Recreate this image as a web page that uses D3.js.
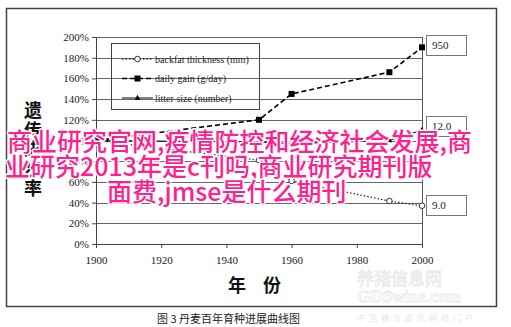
<!DOCTYPE html>
<html>
<head>
<meta charset="utf-8">
<script src="https://cdn.jsdelivr.net/npm/d3@7"></script>
<style>
  body { margin: 0; background: #fff; }
  svg { display: block; }
  .tick text { font-family: "Liberation Serif", serif; font-size: 11px; fill: #222; }
  .grid line { stroke: #666; stroke-width: 1; }
</style>
</head>
<body>
<svg width="511" height="327"></svg>
<script>
var years = [1900, 1950, 1960, 1990, 2000];
var backfat = [100, 81, 61, 41.5, 37];
var dailyGain = [100, 120, 145, 166, 190];
var litterSize = [100, 98.5, 97, 100, 110];
var yTicks = [0, 20, 40, 60, 80, 100, 120, 140, 160, 180, 200];
var xTicks = [1900, 1920, 1940, 1960, 1980, 2000];
var legendNames = ["backfat thickness (mm)", "daily gain (g/day)", "litter size (number)"];
var endLabels = ["9.0", "950", "12.0"];
var overlayLines = ["商业研究官网,疫情防控和经济社会发展,商", "业研究2013年是c刊吗,商业研究期刊版", "面费,jmse是什么期刊"];

var svg = d3.select("svg");

var x = d3.scaleLinear().domain([1900, 2000]).range([96, 422]);
var y = d3.scaleLinear().domain([0, 200]).range([244, 37]);

// outer frame
svg.append("rect").attr("x", 6.5).attr("y", 8.5).attr("width", 490).attr("height", 298)
  .attr("fill", "#fff").attr("stroke", "#444").attr("stroke-width", 1.5);

// faint watermark
var wm = svg.append("g").attr("fill", "none").attr("stroke", "#e8e8e8").attr("stroke-width", 0.8);
wm.append("text").attr("x", 357).attr("y", 285).attr("font-family", "Noto Sans CJK SC")
  .attr("font-size", 17).text("养猪信息网");
wm.append("text").attr("x", 357).attr("y", 302).attr("font-family", "Liberation Serif")
  .attr("font-weight", "bold").attr("font-size", 17).text("GDSwine.com");
svg.append("text").attr("x", 357).attr("y", 321).attr("font-family", "Noto Sans CJK SC")
  .attr("font-size", 8).attr("fill", "#e6e6e6").attr("letter-spacing", 4).text("中国猪业资讯网络门户");

// gridlines
svg.append("g").attr("class", "grid").selectAll("line").data(yTicks.slice(1)).join("line")
  .attr("x1", x(1900)).attr("x2", x(2000))
  .attr("y1", function(d) { return Math.round(y(d)) + 0.5; })
  .attr("y2", function(d) { return Math.round(y(d)) + 0.5; });
svg.append("line").attr("x1", x(2000) + 0.5).attr("x2", x(2000) + 0.5)
  .attr("y1", y(200)).attr("y2", y(0)).attr("stroke", "#555");

// axes
var yAxis = svg.append("g").attr("transform", "translate(" + x(1900) + ",0)")
  .call(d3.axisLeft(y).tickValues(yTicks).tickSize(4).tickPadding(3)
    .tickFormat(function(d) { return d + "%"; }));
var xAxis = svg.append("g").attr("transform", "translate(0," + y(0) + ")")
  .call(d3.axisBottom(x).tickValues(xTicks).tickSize(4).tickPadding(8).tickFormat(d3.format("d")));
[yAxis, xAxis].forEach(function(a) {
  a.select(".domain").attr("stroke", "#444");
  a.selectAll(".tick line").attr("stroke", "#444");
});

// series
var series = [
  { name: legendNames[0], values: backfat, dash: "1.5,2", width: 1.3, color: "#333", marker: "circle" },
  { name: legendNames[1], values: dailyGain, dash: "5,3", width: 1.6, color: "#000", marker: "square" },
  { name: legendNames[2], values: litterSize, dash: null, width: 1, color: "#000", marker: "triangle" }
];

var line = d3.line().x(function(d) { return x(d[0]); }).y(function(d) { return y(d[1]); });

function drawMarker(g, type, cx, cy) {
  if (type === "circle") {
    g.append("circle").attr("cx", cx).attr("cy", cy).attr("r", 2.8)
      .attr("fill", "#fff").attr("stroke", "#333").attr("stroke-width", 1);
  } else if (type === "square") {
    g.append("rect").attr("x", cx - 3).attr("y", cy - 3).attr("width", 6).attr("height", 6).attr("fill", "#000");
  } else {
    g.append("path").attr("d", d3.symbol(d3.symbolTriangle, 14)()).attr("transform", "translate(" + cx + "," + cy + ")")
      .attr("fill", "#000");
  }
}

series.forEach(function(s) {
  var pts = years.map(function(yr, i) { return [yr, s.values[i]]; });
  svg.append("path").datum(pts).attr("d", line).attr("fill", "none")
    .attr("stroke", s.color).attr("stroke-width", s.width).attr("stroke-dasharray", s.dash);
  var mg = svg.append("g");
  pts.forEach(function(p) { drawMarker(mg, s.marker, x(p[0]), y(p[1])); });
});

// end labels
var endVals = [backfat[backfat.length - 1], dailyGain[dailyGain.length - 1], litterSize[litterSize.length - 1]];
var endOffset = [-1, -2, -4];
endLabels.forEach(function(t, i) {
  var cy = y(endVals[i]) + endOffset[i];
  svg.append("rect").attr("x", 426.5).attr("y", Math.round(cy - 10) + 0.5).attr("width", 40).attr("height", 20)
    .attr("fill", "#fff").attr("stroke", "#777");
  svg.append("text").attr("x", 432).attr("y", cy + 4).attr("font-family", "Liberation Serif")
    .attr("font-size", 11).attr("fill", "#222").text(t);
});

// legend (transparent box)
svg.append("rect").attr("x", 111.5).attr("y", 43.5).attr("width", 148).attr("height", 66)
  .attr("fill", "none").attr("stroke", "#444");
var legY = [59, 78.5, 98];
series.forEach(function(s, i) {
  var g = svg.append("g");
  g.append("line").attr("x1", 122).attr("x2", 153).attr("y1", legY[i]).attr("y2", legY[i])
    .attr("stroke", s.color).attr("stroke-width", s.width).attr("stroke-dasharray", s.dash);
  drawMarker(g, s.marker, 137.5, legY[i]);
  g.append("text").attr("x", 155).attr("y", legY[i] + 3.5).attr("font-family", "Liberation Serif")
    .attr("font-size", 10).attr("fill", "#222").text(s.name);
});

// axis titles
var yTitle = "遗传进步率".split("");
svg.append("g").selectAll("text").data(yTitle).join("text")
  .attr("x", 33).attr("y", function(d, i) { return 117 + i * 19.5; })
  .attr("text-anchor", "middle").attr("font-family", "Noto Sans CJK SC").attr("font-weight", "bold")
  .attr("font-size", 18).attr("fill", "#111").text(function(d) { return d; });
svg.append("text").attr("x", 237).attr("y", 292).attr("text-anchor", "middle")
  .attr("font-family", "Noto Sans CJK SC").attr("font-weight", "bold").attr("font-size", 18).attr("fill", "#111").text("年");
svg.append("text").attr("x", 272).attr("y", 292).attr("text-anchor", "middle")
  .attr("font-family", "Noto Sans CJK SC").attr("font-weight", "bold").attr("font-size", 18).attr("fill", "#111").text("份");

// caption
svg.append("text").attr("x", 157).attr("y", 323).attr("font-family", "Noto Sans CJK SC")
  .attr("font-size", 11).attr("fill", "#222").text("图 3  丹麦百年育种进展曲线图");

// pink overlay text
var overX = [7, 5, 107];
svg.append("g").selectAll("text").data(overlayLines).join("text")
  .attr("x", function(d, i) { return overX[i]; })
  .attr("y", function(d, i) { return 151 + i * 25; })
  .attr("font-family", "Noto Sans CJK SC").attr("font-weight", 500).attr("font-size", 25).attr("fill", "#ff1f8e")
  .attr("stroke", "#fff").attr("stroke-width", 3).attr("paint-order", "stroke").attr("stroke-linejoin", "round")
  .text(function(d) { return d; });
</script>
</body>
</html>
